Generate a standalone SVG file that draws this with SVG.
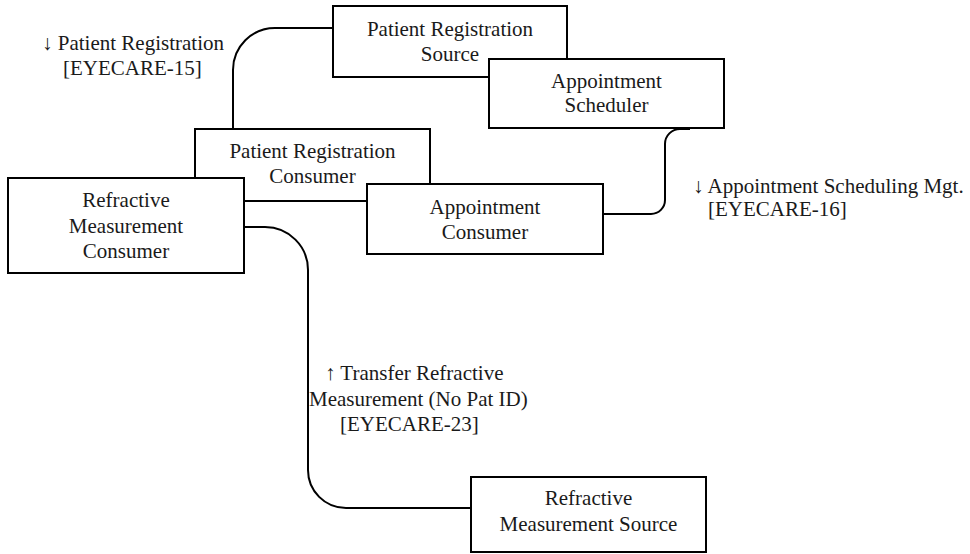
<svg xmlns="http://www.w3.org/2000/svg" width="970" height="554" viewBox="0 0 970 554">
<style>
.box{fill:#fff;stroke:#000;stroke-width:2}
.t{font-family:'Liberation Serif','Tinos','Times New Roman','DejaVu Serif',serif;font-size:21px;fill:#1a1a1a}
.c{text-anchor:middle}
.conn{fill:none;stroke:#000;stroke-width:2}
</style>
<rect width="970" height="554" fill="#fff"/>
<g id="connectors">
<path class="conn" d="M333,28 H275 A42,42 0 0 0 233,70 V129"/>
<path class="conn" d="M603,214 H651 A14,14 0 0 0 665,200 V144 A15,15 0 0 1 680,129 H690"/>
<path class="conn" d="M244,227 H265 A43,43 0 0 1 308,270 V470 A38,38 0 0 0 346,508 H471"/>
</g>
<g id="node-prs">
<rect class="box" x="333" y="6" width="234" height="71"/>
<text class="t c" x="450" y="36">Patient Registration</text>
<text class="t c" x="450" y="61">Source</text>
</g>
<g id="node-as">
<rect class="box" x="489" y="59" width="235" height="69"/>
<text class="t c" x="606.5" y="88">Appointment</text>
<text class="t c" x="606.5" y="112">Scheduler</text>
</g>
<g id="node-prc">
<rect class="box" x="195" y="129" width="235" height="72"/>
<text class="t c" x="312.5" y="158">Patient Registration</text>
<text class="t c" x="312.5" y="183">Consumer</text>
</g>
<g id="node-rmc">
<rect class="box" x="8" y="178" width="236" height="95"/>
<text class="t c" x="126" y="207">Refractive</text>
<text class="t c" x="126" y="232.5">Measurement</text>
<text class="t c" x="126" y="258">Consumer</text>
</g>
<g id="node-ac">
<rect class="box" x="367" y="184" width="236" height="70"/>
<text class="t c" x="485" y="214">Appointment</text>
<text class="t c" x="485" y="238.5">Consumer</text>
</g>
<g id="node-rms">
<rect class="box" x="471" y="477" width="235" height="75"/>
<text class="t c" x="588.5" y="505">Refractive</text>
<text class="t c" x="588.5" y="531">Measurement Source</text>
</g>
<g id="labels">
<text class="t" x="42" y="50">↓ Patient Registration</text>
<text class="t" x="63" y="75">[EYECARE-15]</text>
<text class="t" x="693" y="192.5">↓ Appointment Scheduling Mgt.</text>
<text class="t" x="708" y="216">[EYECARE-16]</text>
<text class="t" x="325" y="380">↑ Transfer Refractive</text>
<text class="t" x="309" y="406">Measurement (No Pat ID)</text>
<text class="t" x="340" y="431">[EYECARE-23]</text>
</g>
</svg>
